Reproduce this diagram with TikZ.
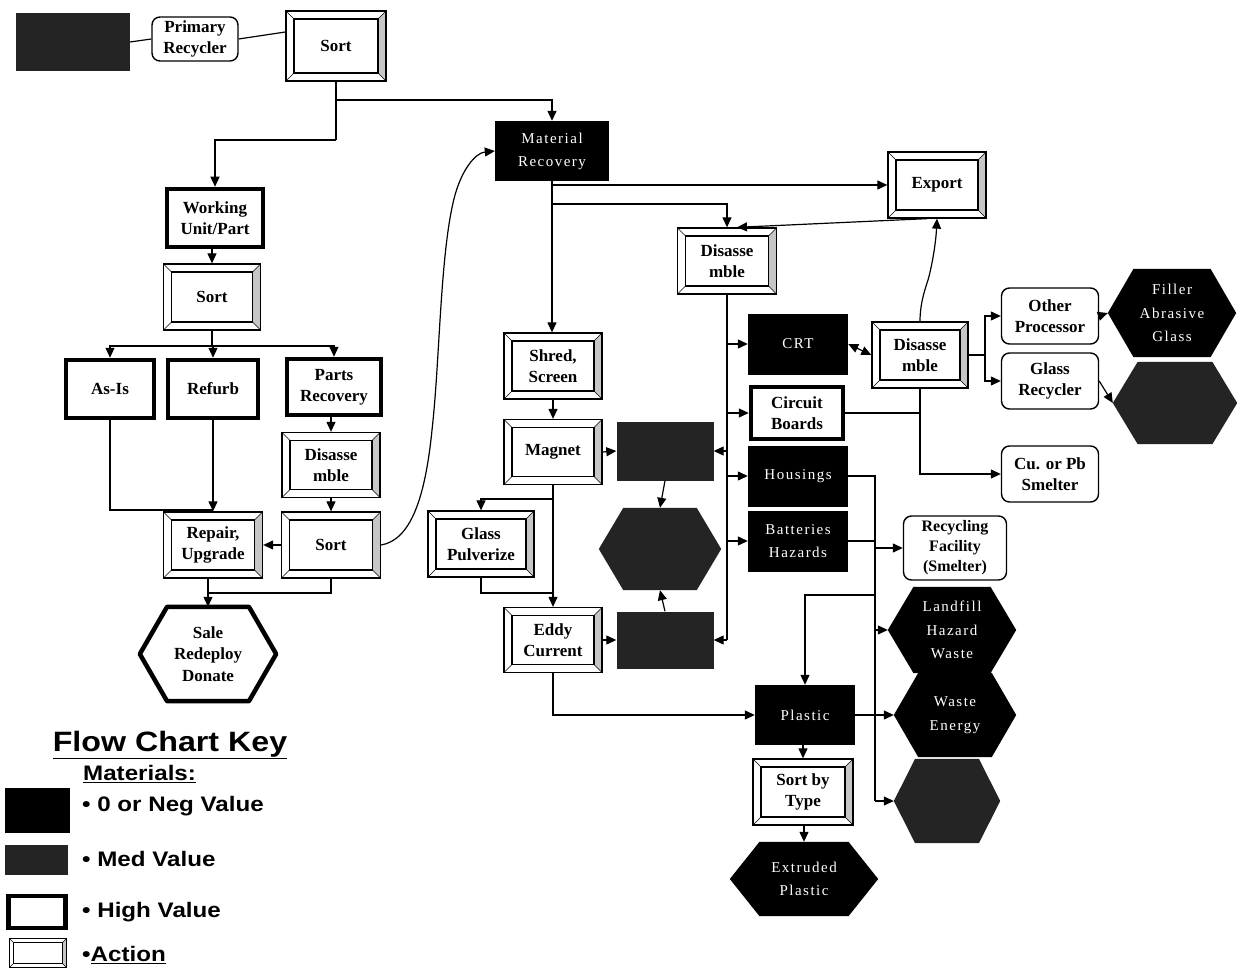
\documentclass[tikz,border=0pt]{standalone}
\usepackage{fontspec}
\setmainfont{Liberation Serif}
\newfontfamily\blkfont[LetterSpace=10]{Liberation Serif}
\newfontfamily\keyfont{Liberation Sans}
\usetikzlibrary{arrows.meta,backgrounds,calc}
\definecolor{medgray}{RGB}{36,36,36}
\newcommand\hexshape[2]{%
  \begin{scope}[on background layer]
  \path[#2] (#1.west) -- ($(#1.north west)!0.2!(#1.north east)$) -- ($(#1.north west)!0.8!(#1.north east)$) -- (#1.east) -- ($(#1.south west)!0.8!(#1.south east)$) -- ($(#1.south west)!0.2!(#1.south east)$) -- cycle;
  \end{scope}}
\newcommand\wide[1]{\scalebox{1.15}[1]{#1}}
\tikzset{bev/.store in=\bevel, bev=8pt}
\begin{document}
\begin{tikzpicture}[x=1pt,y=-1pt,
  sz/.style 2 args={minimum width=#1pt, minimum height=#2pt},
  base/.style={inner sep=0pt, align=center},
  lbl/.style={font=\fontsize{17}{21}\selectfont\bfseries},
  actbox/.style={base, lbl, draw, line width=1.3pt, fill=white,
    path picture={
      \fill[gray!45] ([shift={(-\bevel,-\bevel)}]path picture bounding box.north east) -- (path picture bounding box.north east) -- (path picture bounding box.south east) -- ([shift={(-\bevel,\bevel)}]path picture bounding box.south east) -- cycle;
      \draw[line width=0.6pt] (path picture bounding box.south west) -- ++(\bevel,\bevel)
        (path picture bounding box.north west) -- ++(\bevel,-\bevel)
        (path picture bounding box.north east) -- ++(-\bevel,-\bevel)
        (path picture bounding box.south east) -- ++(-\bevel,\bevel);
      \draw[line width=1.5pt] ([shift={(\bevel,\bevel)}]path picture bounding box.south west) rectangle ([shift={(-\bevel,-\bevel)}]path picture bounding box.north east);
    }},
  thickbox/.style={base, lbl, draw, line width=4.5pt, fill=white},
  rndbox/.style={base, lbl, draw, line width=1.4pt, rounded corners=8pt, fill=white},
  blkbox/.style={base, fill=black, text=white, font=\blkfont\fontsize{15}{23}\selectfont},
  medbox/.style={base, fill=medgray},
  hexlbl/.style={base, font=\blkfont\fontsize{15}{23.5}\selectfont, text=white},
  whitehex/.style={draw, line width=4.5pt, fill=white, line join=round},
  blackhex/.style={fill=black},
  medhex/.style={fill=medgray},
  arr/.style={-{Triangle[length=10pt,width=9pt]}, line width=1.2pt},
  ln/.style={line width=1.2pt},
  keytxt/.style={anchor=west, inner sep=0pt, font=\keyfont\bfseries\fontsize{21}{24}\selectfont}
]
\begin{scope}[on background layer]
\fill[white] (0,0) rectangle (1241,976);
\end{scope}
\useasboundingbox (0,0) rectangle (1241,976);

% ---------- nodes ----------
\node[medbox, sz={114}{58}] (tl) at (73,42) {};
\node[rndbox, sz={86}{44}] (pr) at (195,39) {Primary\\Recycler};
\node[actbox, sz={100}{70}] (sort1) at (336,46) {Sort};
\node[blkbox, sz={114}{60}] (mr) at (552,151) {Material\\Recovery};
\node[actbox, sz={98}{66}] (export) at (937,185) {Export};

\node[thickbox, sz={96}{58}] (wu) at (215,218) {Working\\Unit/Part};
\node[actbox, sz={97}{66}] (sort2) at (212,297) {Sort};
\node[thickbox, sz={88}{58}] (asis) at (110,389) {As-Is};
\node[thickbox, sz={90}{58}] (refurb) at (213,389) {Refurb};
\node[thickbox, sz={94}{56}] (parts) at (334,387) {Parts\\Recovery};
\node[actbox, sz={98}{65}] (dis1) at (331,465) {Disasse\\mble};
\node[actbox, sz={99}{66}] (sort3) at (331,545) {Sort};
\node[actbox, sz={99}{66}] (repair) at (213,545) {Repair,\\Upgrade};
\node[base, lbl, sz={136}{94}, font=\fontsize{17}{21.5}\selectfont\bfseries] (sale) at (208,654) {Sale\\Redeploy\\Donate};
\hexshape{sale}{whitehex}

\node[actbox, sz={99}{66}] (dis2) at (727,261) {Disasse\\mble};
\node[blkbox, sz={100}{61}] (crt) at (798,344) {CRT};
\node[thickbox, sz={92}{52}] (cb) at (797,413) {Circuit\\Boards};
\node[blkbox, sz={100}{61}] (hous) at (798,476) {Housings};
\node[blkbox, sz={100}{61}] (bat) at (798,541) {Batteries\\Hazards};
\node[actbox, sz={96}{66}] (dis3) at (920,355) {Disasse\\mble};
\node[rndbox, sz={97}{56}] (op) at (1050,316) {Other\\Processor};
\node[rndbox, sz={97}{56}] (gr) at (1050,381) {Glass\\Recycler};
\node[rndbox, sz={97}{56}] (cu) at (1050,474) {Cu. or Pb\\Smelter};
\node[hexlbl, sz={128}{88}] (filler) at (1172,313) {Filler\\Abrasive\\Glass};
\hexshape{filler}{blackhex}
\node[base, sz={124}{82}] (medhr) at (1175,403) {};
\hexshape{medhr}{medhex}
\node[rndbox, sz={103}{64}, font=\fontsize{16}{20}\selectfont\bfseries] (rf) at (955,548) {Recycling\\Facility\\(Smelter)};
\node[hexlbl, sz={128}{86}] (land) at (952,630) {Landfill\\Hazard\\Waste};
\hexshape{land}{blackhex}
\node[hexlbl, sz={122}{84}] (we) at (955,715) {Waste\\Energy};
\hexshape{we}{blackhex}
\node[base, sz={106}{84}] (medbr) at (947,801) {};
\hexshape{medbr}{medhex}
\node[blkbox, sz={100}{60}] (plastic) at (805,715) {Plastic};
\node[actbox, sz={100}{66}] (sbt) at (803,792) {Sort by\\Type};
\node[hexlbl, sz={148}{74}] (ext) at (804,879) {Extruded\\Plastic};
\hexshape{ext}{blackhex}

\node[actbox, sz={98}{66}] (shred) at (553,366) {Shred,\\Screen};
\node[actbox, sz={98}{65}] (magnet) at (553,452) {Magnet};
\node[medbox, sz={97}{59}] (mb1) at (665,451) {};
\node[actbox, sz={106}{66}] (gp) at (481,544) {Glass\\Pulverize};
\node[base, sz={122}{82}] (mhm) at (660,549) {};
\hexshape{mhm}{medhex}
\node[actbox, sz={98}{65}] (eddy) at (553,640) {Eddy\\Current};
\node[medbox, sz={97}{57}] (mb2) at (665,640) {};

% ---------- connectors ----------
\draw[ln] (tl.east) -- (pr.west);
\draw[ln] (pr.east) -- ([yshift=14pt]sort1.west);
\coordinate (s1a) at (336,100);
\coordinate (s1b) at (336,140);
\draw[ln] (sort1.south) -- (s1b);
\draw[arr] (s1a) -| (mr.north);
\draw[arr] (s1b) -| (wu.north);
\draw[arr] (wu.south -| sort2.north) -- (sort2.north);
\coordinate (s2j) at (212,346);
\draw[ln] (sort2.south) -- (s2j);
\draw[arr] (s2j) -| (asis.north);
\draw[arr] (s2j) -| (refurb.north);
\draw[arr] (s2j) -| (parts.north);
\draw[arr] (parts.south -| dis1.north) -- (dis1.north);
\draw[arr] (dis1.south) -- (sort3.north);
\draw[arr] (sort3.west) -- (repair.east);
\coordinate (arj) at (213,510);
\draw[ln] (asis.south) |- (arj);
\draw[arr] (refurb.south) -- (repair.north);
\draw[arr] (repair.south -| sale.north) -- (sale.north);
\coordinate (ssj) at (208,593);
\draw[ln] (sort3.south) |- (ssj);
\draw[arr] (sort3.east) .. controls (410,540) and (425,500) .. (432,430)
  .. controls (440,360) and (440,250) .. (455,195)
  .. controls (462,170) and (475,153) .. (mr.west);

\coordinate (mrj1) at (552,185);
\coordinate (mrj2) at (552,204);
\draw[arr] (mr.south) -- (mr.south |- shred.north);
\draw[arr] (mrj1) -- (export.west);
\draw[arr] (mrj2) -| (dis2.north);
\draw[arr] ([xshift=-10pt]export.south) -- ([xshift=10pt]dis2.north);
\draw[arr] (dis3.north) .. controls (920,305) and (924,292) .. (928,280)
  .. controls (933,262) and (936,240) .. (export.south);

\draw[ln] (dis2.south) -- (dis2.south |- mb2.east);
\draw[arr] (dis2.south |- crt.west) -- (crt.west);
\draw[arr] (dis2.south |- cb.west) -- (cb.west);
\draw[arr] (dis2.south |- hous.west) -- (hous.west);
\draw[arr] (dis2.south |- bat.west) -- (bat.west);
\draw[arr] (dis2.south |- mb1.east) -- (mb1.east);
\draw[arr] (dis2.south |- mb2.east) -- (mb2.east);

\draw[{Triangle[length=10pt,width=9pt]}-{Triangle[length=10pt,width=9pt]}, line width=1.2pt] (crt.east) -- (dis3.west);
\coordinate (d3j) at (985,355);
\draw[ln] (dis3.east) -- (d3j);
\draw[arr] (d3j) |- (op.west);
\draw[arr] (d3j) |- (gr.west);
\draw[arr] (op.east) -- (filler.west);
\draw[arr] (gr.east) -- (medhr.west);
\draw[arr] (dis3.south) |- (cu.west);
\draw[ln] (cb.east) -- (cb.east -| dis3.south);

\coordinate (t2a) at (875,476);
\coordinate (t2b) at (875,801);
\draw[ln] (hous.east) -- (t2a) -- (t2b);
\draw[arr] (t2b) -- (medbr.west);
\draw[ln] (bat.east) -- (bat.east -| t2a);
\draw[arr] (t2a |- rf.west) -- (rf.west);
\draw[arr] (t2a |- land.west) -- (land.west);
\coordinate (pj) at (875,595);
\draw[arr] (pj) -| (plastic.north);
\draw[arr] (plastic.east) -- (we.west);
\draw[arr] (plastic.south -| sbt.north) -- (sbt.north);
\draw[arr] (sbt.south -| ext.north) -- (ext.north);

\draw[arr] (shred.south) -- (magnet.north);
\draw[arr] (magnet.east) -- (mb1.west);
\draw[arr] (magnet.south) -- (eddy.north);
\coordinate (mj) at (553,499);
\draw[arr] (mj) -| (gp.north);
\coordinate (gj) at (553,593);
\draw[ln] (gp.south) |- (gj);
\draw[arr] (mb1.south) -- (mhm.north);
\draw[arr] (mb2.north) -- (mhm.south);
\draw[arr] (eddy.east) -- (mb2.west);
\draw[arr] (eddy.south) |- (plastic.west);

% ---------- key ----------
\node[inner sep=0pt, font=\keyfont\bfseries\fontsize{28}{30}\selectfont] (keyt) at (170,745) {\wide{\underline{Flow Chart Key}}};
\node[anchor=west, inner sep=0pt, font=\keyfont\bfseries\fontsize{21}{24}\selectfont] (keym) at (83,774) {\wide{\underline{Materials:}}};
\node[base, fill=black, sz={65}{45}] (k1) at (37,810) {};
\node[medbox, sz={63}{30}] (k2) at (36,860) {};
\node[thickbox, sz={57}{32}] (k3) at (37,912) {};
\node[actbox, bev=4pt, sz={57}{29}] (k4) at (38,953) {};
\node[keytxt] (k1t) at (82,806) {\wide{• 0 or Neg Value}};
\node[keytxt] (k2t) at (82,859) {\wide{• Med Value}};
\node[keytxt] (k3t) at (82,912) {\wide{• High Value}};
\node[keytxt] (k4t) at (82,955) {\wide{•\underline{Action}}};
\end{tikzpicture}
\end{document}
